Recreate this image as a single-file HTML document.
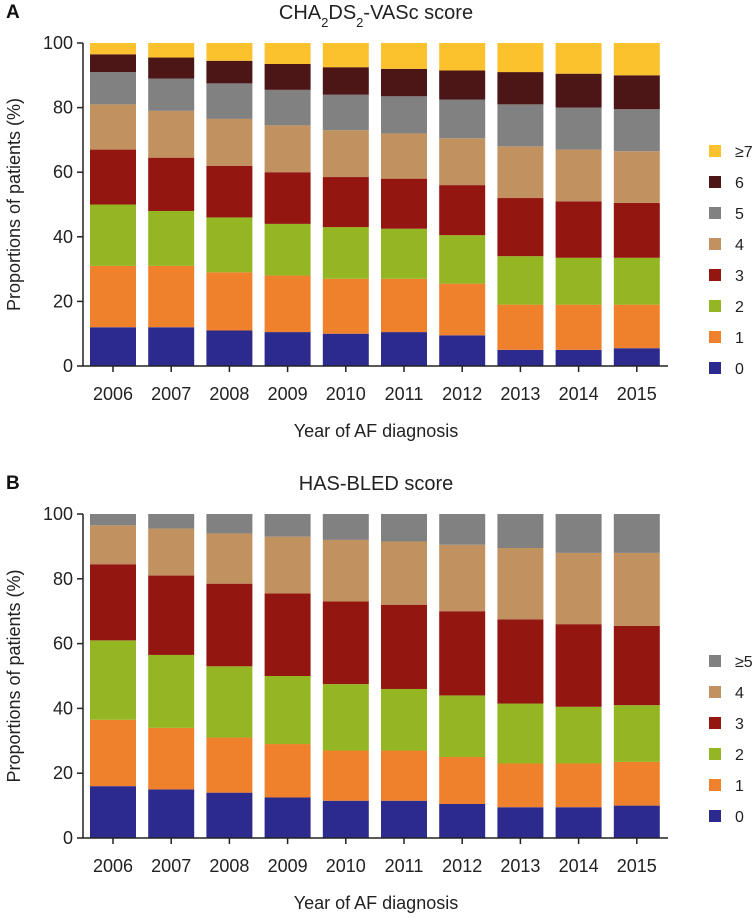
<!DOCTYPE html>
<html><head><meta charset="utf-8">
<style>
body{margin:0;background:#fff;}
svg{display:block;font-family:"Liberation Sans",Arial,sans-serif;}
</style></head>
<body>
<svg id="chart" width="753" height="918" viewBox="0 0 753 918"></svg>
<script>
const years = ["2006","2007","2008","2009","2010","2011","2012","2013","2014","2015"];
// Panel A cumulative tops per category (0,1,2,3,4,5,6,≥7)
const chaCats = ["0","1","2","3","4","5","6","≥7"];
const chaCum = [
 [12,31,50,67,81,91,96.5,100],
 [12,31,48,64.5,79,89,95.5,100],
 [11,29,46,62,76.5,87.5,94.5,100],
 [10.5,28,44,60,74.5,85.5,93.5,100],
 [10,27,43,58.5,73,84,92.5,100],
 [10.5,27,42.5,58,72,83.5,92,100],
 [9.5,25.5,40.5,56,70.5,82.5,91.5,100],
 [5,19,34,52,68,81,91,100],
 [5,19,33.5,51,67,80,90.5,100],
 [5.5,19,33.5,50.5,66.5,79.5,90,100]
];
const hasCats = ["0","1","2","3","4","≥5"];
const hasCum = [
 [16,36.5,61,84.5,96.5,100],
 [15,34,56.5,81,95.5,100],
 [14,31,53,78.5,94,100],
 [12.5,29,50,75.5,93,100],
 [11.5,27,47.5,73,92,100],
 [11.5,27,46,72,91.5,100],
 [10.5,25,44,70,90.5,100],
 [9.5,23,41.5,67.5,89.5,100],
 [9.5,23,40.5,66,88,100],
 [10,23.5,41,65.5,88,100]
];
const yTicks = [0,20,40,60,80,100];
const chaColors = ["#2d2a8e","#f0812c","#93b622","#941610","#c1925f","#818181","#4b1615","#fcc22d"];
const hasColors = ["#2d2a8e","#f0812c","#93b622","#941610","#c1925f","#818181"];

const svg = document.getElementById('chart');
const NS = "http://www.w3.org/2000/svg";
function mk(tag, attrs, parent){const e=document.createElementNS(NS,tag);for(const k in attrs)e.setAttribute(k,attrs[k]);(parent||svg).appendChild(e);return e;}

function panel(letter, titleHTML, cats, cum, colors, y0, y100, titleY, legendTop, pname){
  const g = mk('g',{});
  
  
  const yS = v => y0 - (v/100)*(y0-y100);
  const xC = i => 113 + i*58.2;
  const bw = 46;
  // letter
  const L = mk('text',{x:6,y:titleY+6,'font-size':19,'font-weight':'bold',fill:'#111'},g);
  L.textContent = letter;
  
  
  const T = mk('text',{x:376,y:titleY+7,'font-size':20,'text-anchor':'middle',fill:'#222'},g);
  T.innerHTML = titleHTML;
  
  
  // bars
  cum.forEach((row,i)=>{
    let prev=0;
    row.forEach((v,k)=>{
      const r = mk('rect',{x:xC(i)-bw/2,y:yS(v),width:bw,height:yS(prev)-yS(v),fill:colors[k]},g);
      
      
      prev=v;
    });
  });
  // axes
  const ya = mk('line',{x1:83,y1:y100,x2:83,y2:y0,stroke:'#222','stroke-width':1.5},g);
  
  
  const xa = mk('line',{x1:83,y1:y0,x2:668,y2:y0,stroke:'#222','stroke-width':1.5},g);
  
  
  yTicks.forEach(t=>{
    mk('line',{x1:77,y1:yS(t),x2:83,y2:yS(t),stroke:'#222','stroke-width':1.5},g);
    const tl = mk('text',{x:73,y:yS(t)+6,'font-size':18,'text-anchor':'end',fill:'#222'},g);
    tl.textContent = t;
    
    
  });
  years.forEach((yr,i)=>{
    mk('line',{x1:xC(i),y1:y0,x2:xC(i),y2:y0+6,stroke:'#222','stroke-width':1.5},g);
    const xl = mk('text',{x:xC(i),y:y0+34,'font-size':18,'text-anchor':'middle',fill:'#222'},g);
    xl.textContent = yr;
    
    
  });
  const xt = mk('text',{x:376,y:y0+71,'font-size':18,'text-anchor':'middle',fill:'#222'},g);
  xt.textContent = 'Year of AF diagnosis';
  
  
  const ym = (y0+y100)/2;
  const yt = mk('text',{x:20,y:ym,'font-size':18,'text-anchor':'middle',fill:'#222',transform:`rotate(-90 20 ${ym})`},g);
  yt.textContent = 'Proportions of patients (%)';
  
  
  // legend (top is highest category)
  for(let k=cats.length-1, j=0; k>=0; k--, j++){
    const ly = legendTop + j*31;
    const sq = mk('rect',{x:709,y:ly-6,width:12,height:12,fill:colors[k]},g);
    
    
    const lt = mk('text',{x:735,y:ly+6,'font-size':16,fill:'#222'},g);
    lt.textContent = cats[k];
    
    
  }
}
panel('A','CHA<tspan baseline-shift="sub" font-size="13">2</tspan>DS<tspan baseline-shift="sub" font-size="13">2</tspan>-VASc score',
  chaCats, chaCum, chaColors, 366, 43, 12, 151, 'panel-a-cha2ds2vasc');
panel('B','HAS-BLED score', hasCats, hasCum, hasColors, 838, 514, 483, 661, 'panel-b-hasbled');
</script>
</body></html>
